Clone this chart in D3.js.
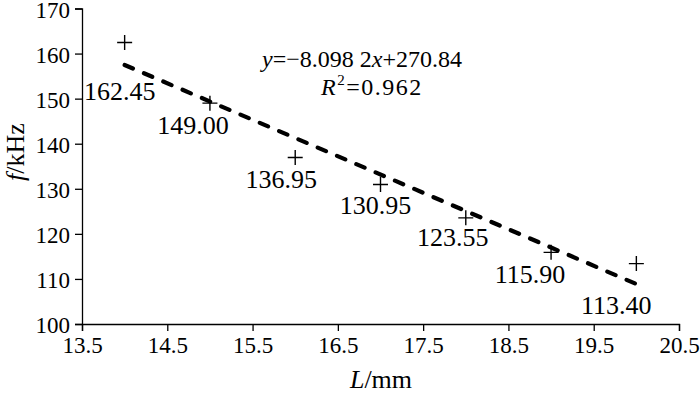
<!DOCTYPE html>
<html><head><meta charset="utf-8">
<script src="https://cdn.jsdelivr.net/npm/d3@7/dist/d3.min.js"></script>
<style>body{margin:0;background:#fff}svg{display:block}text{font-family:"Liberation Serif","Times New Roman",serif;fill:#000}</style>
</head><body><svg id="c" width="700" height="393"></svg>
<script>
const lengths = [14, 15, 16, 17, 18, 19, 20];
const freqs = [162.45, 149.00, 136.95, 130.95, 123.55, 115.90, 113.40];
const labels = ["162.45", "149.00", "136.95", "130.95", "123.55", "115.90", "113.40"];
const xTicks = [13.5, 14.5, 15.5, 16.5, 17.5, 18.5, 19.5, 20.5];
const yTicks = [100, 110, 120, 130, 140, 150, 160, 170];
const slope = -8.0982, intercept = 270.84;
// label offsets (px) relative to each point
const labelDx = [-5, -17, -14, -5, -13, -21, -20];
const labelDy = [48, 22, 21, 20, 19, 22, 41];

const svg = d3.select("#c");
const x = d3.scaleLinear().domain([13.5, 20.5]).range([82, 679]);
const y = d3.scaleLinear().domain([100, 170]).range([324, 8.5]);

const gx = svg.append("g").attr("transform", "translate(0,324)")
  .call(d3.axisBottom(x).tickValues(xTicks).tickFormat(d3.format(".1f")).tickSizeOuter(0).tickSize(7).tickPadding(4));
const gy = svg.append("g").attr("transform", "translate(82,0)")
  .call(d3.axisLeft(y).tickValues(yTicks).tickFormat(d3.format("d")).tickSizeOuter(0).tickSize(7).tickPadding(5));
[gx, gy].forEach(g => {
  g.select(".domain").attr("stroke", "#000").attr("stroke-width", 1.3);
  g.selectAll(".tick line").attr("stroke", "#000").attr("stroke-width", 1.3);
  g.selectAll(".tick text").style("font-family", '"Liberation Serif",serif').style("font-size", "23px").attr("fill", "#000");
});
gx.selectAll(".tick text").attr("dy", "0.78em");
gy.selectAll(".tick text").attr("dy", "0.38em");

// trend line
svg.append("line")
  .attr("x1", x(14)).attr("y1", y(slope * 14 + intercept))
  .attr("x2", x(20)).attr("y2", y(slope * 20 + intercept))
  .attr("stroke", "#000").attr("stroke-width", 4.2)
  .attr("stroke-dasharray", "9,12").attr("stroke-linecap", "round");

// markers
const s = 7.5;
const pts = svg.append("g");
lengths.forEach((L, i) => {
  const px = x(L), py = y(freqs[i]);
  pts.append("path").attr("d", `M${px - s},${py}H${px + s}M${px},${py - s}V${py + s}`)
    .attr("stroke", "#000").attr("stroke-width", 1.4).attr("fill", "none");
  svg.append("text").attr("x", px + labelDx[i]).attr("y", py + labelDy[i])
    .attr("text-anchor", "middle").attr("dy", "0.35em")
    .style("font-size", "26px").text(labels[i]);
});

// equation
const eq = svg.append("text").attr("x", 262).attr("y", 67).style("font-size", "24px");
eq.append("tspan").attr("font-style", "italic").text("y");
eq.append("tspan").text("=\u22128.098 2");
eq.append("tspan").attr("font-style", "italic").text("x");
eq.append("tspan").text("+270.84");
const r2 = svg.append("text").attr("x", 321).attr("y", 95).style("font-size", "24px").style("letter-spacing", "1.5px");
r2.append("tspan").attr("font-style", "italic").text("R");
r2.append("tspan").attr("dy", -10).style("font-size", "15px").text("2");
r2.append("tspan").attr("dy", 10).text("=0.962");

// axis titles
const xt = svg.append("text").attr("x", 381).attr("y", 388).attr("text-anchor", "middle").style("font-size", "26px");
xt.append("tspan").attr("font-style", "italic").text("L");
xt.append("tspan").text("/mm");
const yt = svg.append("text").attr("transform", "translate(24,152) rotate(-90)").attr("text-anchor", "middle").style("font-size", "26px");
yt.append("tspan").attr("font-style", "italic").text("f");
yt.append("tspan").text("/kHz");
</script></body></html>
